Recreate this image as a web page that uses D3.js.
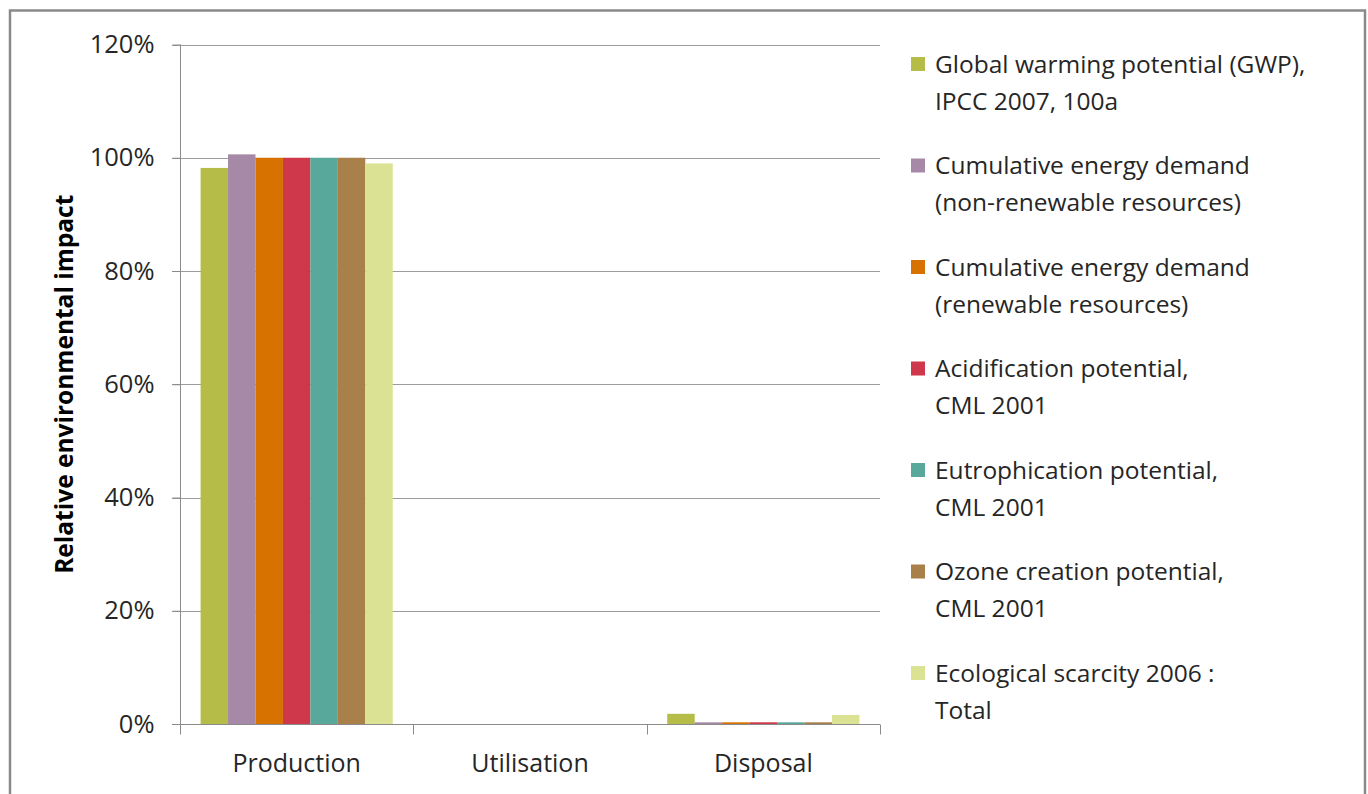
<!DOCTYPE html>
<html>
<head>
<meta charset="utf-8">
<script src="https://cdn.jsdelivr.net/npm/d3@7"></script>
<style>
  body { margin: 0; background: #fff; }
  svg text { font-family: "Open Sans", sans-serif; }
</style>
</head>
<body>
<div id="chart"></div>
<script>
// categories on the x axis
var categories = ["Production", "Utilisation", "Disposal"];

// series (legend order)
var seriesNames = ["gwp", "cedNonRen", "cedRen", "acid", "eutro", "ozone", "eco"];
var seriesLabels = [
  ["Global warming potential (GWP),", "IPCC 2007, 100a"],
  ["Cumulative energy demand", "(non-renewable resources)"],
  ["Cumulative energy demand", "(renewable resources)"],
  ["Acidification potential,", "CML 2001"],
  ["Eutrophication potential,", "CML 2001"],
  ["Ozone creation potential,", "CML 2001"],
  ["Ecological scarcity 2006 :", "Total"]
];
var seriesColors = ["#b5bd48", "#a589a6", "#d77200", "#cf374a", "#58a89c", "#a9804a", "#dbe294"];

// values in % per category
var gwp       = [98.2, 0, 1.8];
var cedNonRen = [100.6, 0, 0.3];
var cedRen    = [100, 0, 0.3];
var acid      = [100, 0, 0.3];
var eutro     = [100, 0, 0.3];
var ozone     = [100, 0, 0.3];
var eco       = [99.0, 0, 1.6];

var yTicks = [0, 20, 40, 60, 80, 100, 120];

var seriesValues = [gwp, cedNonRen, cedRen, acid, eutro, ozone, eco];
var data = [];
categories.forEach(function (c, ci) {
  seriesNames.forEach(function (s, si) {
    data.push({ category: c, series: s, value: seriesValues[si][ci], color: seriesColors[si] });
  });
});

var width = 1368, height = 794;
var svg = d3.select("#chart").append("svg")
  .attr("width", width)
  .attr("height", height);

// outer frame (bottom edge is off the picture)
svg.append("path")
  .attr("d", "M10,800 L10,10.5 L1365,10.5 L1365,800")
  .attr("fill", "none")
  .attr("stroke", "#8a8a8a")
  .attr("stroke-width", 2.5);

var plotLeft = 180, plotRight = 880, plotTop = 44.5, plotBottom = 724;

var x0 = d3.scaleBand()
  .domain(categories)
  .range([plotLeft, plotRight])
  .padding(0);

var x1 = d3.scaleBand()
  .domain(seriesNames)
  .range([0, x0.bandwidth()])
  .paddingInner(0)
  .paddingOuter(0.75);

var y = d3.scaleLinear()
  .domain([0, 120])
  .range([plotBottom, plotTop]);

// gridlines
svg.append("g")
  .selectAll("line")
  .data(yTicks.filter(function (d) { return d > 0; }))
  .join("line")
  .attr("x1", plotLeft - 8)
  .attr("x2", plotRight)
  .attr("y1", function (d) { return Math.round(y(d)) + 0.5; })
  .attr("y2", function (d) { return Math.round(y(d)) + 0.5; })
  .attr("stroke", "#9c9c9c")
  .attr("stroke-width", 1);

// bars
svg.append("g")
  .selectAll("rect")
  .data(data)
  .join("rect")
  .attr("x", function (d) { return x0(d.category) + x1(d.series); })
  .attr("y", function (d) { return y(d.value); })
  .attr("width", x1.bandwidth())
  .attr("height", function (d) { return y(0) - y(d.value); })
  .attr("fill", function (d) { return d.color; });

// y axis
var yAxis = svg.append("g")
  .attr("transform", "translate(" + (plotLeft + 0.5) + ",0)")
  .call(d3.axisLeft(y).tickValues(yTicks).tickSize(8).tickPadding(18)
    .tickFormat(function (d) { return d + "%"; }));
yAxis.select(".domain").attr("stroke", "#8a8a8a").attr("d", "M0," + plotTop + "V" + (plotBottom + 10));
yAxis.selectAll(".tick line").attr("stroke", "#8a8a8a");
yAxis.selectAll(".tick text")
  .style("font-size", "25.5px")
  .attr("fill", "#262626");

// x axis
var xAxis = svg.append("g")
  .attr("transform", "translate(0," + (plotBottom + 0.5) + ")")
  .call(d3.axisBottom(x0).tickSize(0).tickPadding(30));
xAxis.select(".domain").attr("stroke", "#8a8a8a").attr("d", "M" + (plotLeft - 8) + ",0H" + plotRight);
xAxis.selectAll(".tick text")
  .style("font-size", "25px")
  .attr("fill", "#262626");
// category boundary ticks
xAxis.append("g")
  .selectAll("line")
  .data(categories.concat(["end"]))
  .join("line")
  .attr("x1", function (d, i) { return Math.round(i < categories.length ? x0(d) : plotRight) + 0.5; })
  .attr("x2", function (d, i) { return Math.round(i < categories.length ? x0(d) : plotRight) + 0.5; })
  .attr("y1", 0)
  .attr("y2", 10)
  .attr("stroke", "#8a8a8a");

// y axis title
svg.append("text")
  .attr("transform", "translate(73," + ((plotTop + plotBottom) / 2) + ") rotate(-90)")
  .attr("text-anchor", "middle")
  .style("font-size", "24.5px")
  .style("font-weight", "bold")
  .attr("fill", "#000")
  .text("Relative environmental impact");

// legend
var legend = svg.append("g");
var entry = legend.selectAll("g")
  .data(seriesLabels)
  .join("g")
  .attr("transform", function (d, i) { return "translate(911," + (64 + i * 101.5) + ")"; });
entry.append("rect")
  .attr("x", 0)
  .attr("y", -7)
  .attr("width", 14)
  .attr("height", 14)
  .attr("fill", function (d, i) { return seriesColors[i]; });
entry.each(function (d) {
  var g = d3.select(this);
  d.forEach(function (line, li) {
    g.append("text")
      .attr("x", 24)
      .attr("y", li * 37)
      .attr("dy", "0.35em")
      .style("font-size", "24.5px")
      .attr("fill", "#262626")
      .text(line);
  });
});
</script>
</body>
</html>
